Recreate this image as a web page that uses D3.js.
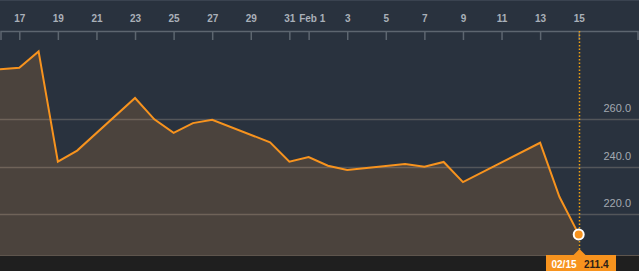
<!DOCTYPE html>
<html>
<head>
<meta charset="utf-8">
<script src="https://cdn.jsdelivr.net/npm/d3@7"></script>
<style>
  html, body { margin: 0; padding: 0; background: #29323e; }
  svg { display: block; font-family: "Liberation Sans", Arial, sans-serif; }
</style>
</head>
<body>
<svg id="chart" width="639" height="271"></svg>
<script>
var width = 639, height = 271;

// dates (2017) and closing values
var dates = ["2017-01-16","2017-01-17","2017-01-18","2017-01-19","2017-01-20",
             "2017-01-23","2017-01-24","2017-01-25","2017-01-26","2017-01-27",
             "2017-01-30","2017-01-31","2017-02-01","2017-02-02","2017-02-03",
             "2017-02-06","2017-02-07","2017-02-08","2017-02-09","2017-02-13",
             "2017-02-14","2017-02-15"];
var values = [281.1, 281.8, 288.7, 242.1, 246.8,
              269.0, 260.0, 254.3, 258.4, 259.8,
              250.3, 242.1, 244.1, 240.4, 238.6,
              241.1, 240.0, 242.0, 233.5, 250.1,
              227.3, 211.4];

var tickDates = ["2017-01-17","2017-01-19","2017-01-21","2017-01-23","2017-01-25",
                 "2017-01-27","2017-01-29","2017-01-31","2017-02-01","2017-02-03",
                 "2017-02-05","2017-02-07","2017-02-09","2017-02-11","2017-02-13",
                 "2017-02-15"];
var yTicks = [220, 240, 260];

var parse = d3.utcParse("%Y-%m-%d");
var data = dates.map(function (d, i) { return { date: parse(d), value: values[i] }; });

var svg = d3.select("#chart");

// x: one day is about 19.3px, Jan 16 sits on the left edge
var x = d3.scaleUtc()
  .domain([parse("2017-01-16"), parse("2017-02-15")])
  .range([0, 578.7]);
var y = d3.scaleLinear()
  .domain([202.7, 297.3])
  .range([255, 31]);

var axisY = 31, bottom = 255;

// top border
svg.append("rect").attr("x", 0).attr("y", 0).attr("width", width).attr("height", 1)
  .attr("fill", "#3a4350");

// area + line
var area = d3.area()
  .x(function (d) { return x(d.date); })
  .y0(bottom)
  .y1(function (d) { return y(d.value); });
var line = d3.line()
  .x(function (d) { return x(d.date); })
  .y(function (d) { return y(d.value); });

svg.append("path").datum(data)
  .attr("d", area)
  .attr("fill", "#4b433d");

// grid lines
svg.selectAll("line.grid")
  .data(yTicks)
  .enter()
  .append("line")
  .attr("class", "grid")
  .attr("x1", 0).attr("x2", width)
  .attr("y1", function (d) { return Math.round(y(d)) + 0.5; })
  .attr("y2", function (d) { return Math.round(y(d)) + 0.5; })
  .attr("stroke", "rgba(255,232,205,0.2)")
  .attr("stroke-width", 1.5);

svg.selectAll("text.ylab")
  .data(yTicks)
  .enter()
  .append("text")
  .attr("class", "ylab")
  .attr("x", 631)
  .attr("y", function (d) { return y(d) - 7; })
  .attr("text-anchor", "end")
  .attr("font-size", 11)
  .attr("fill", "#a3a9b1")
  .text(function (d) { return d3.format(".1f")(d); });

// bottom baseline and dark strip
svg.append("rect").attr("x", 0).attr("y", bottom).attr("width", width).attr("height", 1)
  .attr("fill", "#5e554d");
svg.append("rect").attr("x", 0).attr("y", bottom + 1).attr("width", width).attr("height", height - bottom - 1)
  .attr("fill", "#1f1f1f");

// x axis along the top, outer ticks on both edges
var xFull = x.copy().domain([x.invert(0.5), x.invert(width - 1.5)]).range([0.5, width - 1.5]);
var xAxis = d3.axisBottom(xFull)
  .tickValues(tickDates.map(parse))
  .tickSize(9)
  .tickSizeOuter(9)
  .tickFormat(function (d) {
    return d.getUTCDate() === 1 ? d3.utcFormat("%b")(d) + " 1" : d.getUTCDate();
  });

var gx = svg.append("g")
  .attr("transform", "translate(0," + axisY + ")")
  .call(xAxis);
gx.select(".domain").attr("stroke", "#5d6670").attr("stroke-width", 1.5);
gx.selectAll(".tick line").attr("stroke", "#5d6670").attr("stroke-width", 1.5);
gx.selectAll(".tick text")
  .attr("y", -9)
  .attr("dy", 0)
  .attr("fill", "#a9b0b9")
  .attr("font-size", 10)
  .attr("font-weight", "bold")
  .attr("font-family", "'Liberation Sans', Arial, sans-serif");
// "Feb 1" sits just right of its tick
gx.selectAll(".tick text")
  .filter(function (d) { return d.getUTCDate() === 1; })
  .attr("text-anchor", "start")
  .attr("x", -10);

svg.append("path").datum(data)
  .attr("d", line)
  .attr("fill", "none")
  .attr("stroke", "#f7931e")
  .attr("stroke-width", 2)
  .attr("stroke-linejoin", "miter");

// crosshair on last point
var last = data[data.length - 1];
var lx = Math.round(x(last.date)) + 0.5;
svg.append("line")
  .attr("x1", lx).attr("x2", lx)
  .attr("y1", axisY).attr("y2", 250)
  .attr("stroke", "#f0a010")
  .attr("stroke-width", 1.5)
  .attr("stroke-dasharray", "1.5,2");

svg.append("circle")
  .attr("cx", x(last.date))
  .attr("cy", y(last.value))
  .attr("r", 5)
  .attr("fill", "#f7931e")
  .attr("stroke", "#ffffff")
  .attr("stroke-width", 2);

// value label at the bottom
var lab = svg.append("g");
lab.append("rect")
  .attr("x", lx - 33.5).attr("y", bottom)
  .attr("width", 70).attr("height", height - bottom)
  .attr("fill", "#f7931e");
lab.append("path")
  .attr("d", "M" + (lx - 6) + "," + bottom + "L" + lx + "," + (bottom - 6) + "L" + (lx + 6) + "," + bottom + "Z")
  .attr("fill", "#f7931e");
lab.append("text")
  .attr("x", lx - 28).attr("y", 267.5)
  .attr("font-size", 10).attr("font-weight", "bold")
  .attr("fill", "#ffffff")
  .text(d3.utcFormat("%m/%d")(last.date));
lab.append("text")
  .attr("x", lx + 4.5).attr("y", 267.5)
  .attr("font-size", 10).attr("font-weight", "bold")
  .attr("fill", "#2b2118")
  .text(d3.format(".1f")(last.value));
</script>
</body>
</html>
